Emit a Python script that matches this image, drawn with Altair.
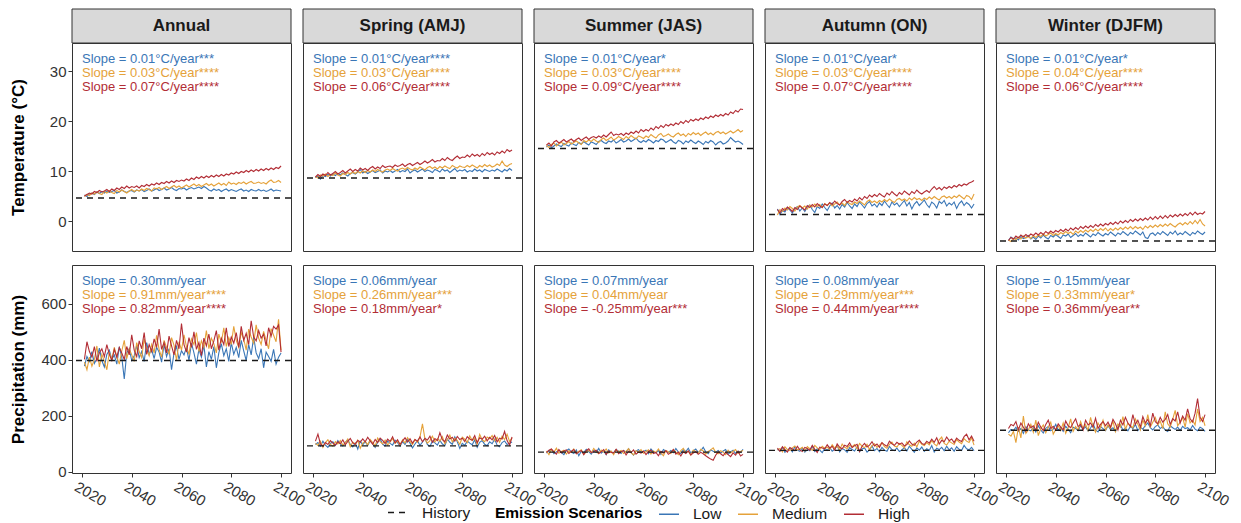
import altair as alt
import pandas as pd

# ---------------- data ----------------
years = list(range(2021, 2101))
seasons = ["Annual", "Spring (AMJ)", "Summer (JAS)", "Autumn (ON)", "Winter (DJFM)"]
scenarios = ["Low", "Medium", "High"]
scenario_colors = ["#3A76B6", "#E5A23A", "#B22D35"]
x_ticks = [2020, 2040, 2060, 2080, 2100]
temp_ticks = [0, 10, 20, 30]
prec_ticks = [0, 200, 400, 600]

temp_history = [4.6, 8.6, 14.5, 1.3, -4.0]
prec_history = [398, 93, 71, 77, 149]

temp_slope_low = ["Slope = 0.01°C/year***", "Slope = 0.01°C/year****", "Slope = 0.01°C/year*",
                  "Slope = 0.01°C/year*", "Slope = 0.01°C/year*"]
temp_slope_medium = ["Slope = 0.03°C/year****", "Slope = 0.03°C/year****", "Slope = 0.03°C/year****",
                     "Slope = 0.03°C/year****", "Slope = 0.04°C/year****"]
temp_slope_high = ["Slope = 0.07°C/year****", "Slope = 0.06°C/year****", "Slope = 0.09°C/year****",
                   "Slope = 0.07°C/year****", "Slope = 0.06°C/year****"]
prec_slope_low = ["Slope = 0.30mm/year", "Slope = 0.06mm/year", "Slope = 0.07mm/year",
                  "Slope = 0.08mm/year", "Slope = 0.15mm/year"]
prec_slope_medium = ["Slope = 0.91mm/year****", "Slope = 0.26mm/year***", "Slope = 0.04mm/year",
                     "Slope = 0.29mm/year***", "Slope = 0.33mm/year*"]
prec_slope_high = ["Slope = 0.82mm/year****", "Slope = 0.18mm/year*", "Slope = -0.25mm/year***",
                   "Slope = 0.44mm/year****", "Slope = 0.36mm/year**"]

# Temperature (°C), 2021-2100
temp_annual_low = [5.2, 4.9, 5.4, 5.6, 5.3, 5.8, 5.5, 5.9, 5.6, 6.0,
                   5.7, 5.9, 6.1, 5.6, 5.8, 6.2, 5.9, 5.7, 6.0, 6.1,
                   5.8, 6.2, 6.0, 6.3, 5.9, 6.1, 6.4, 6.0, 6.2, 6.5,
                   6.1, 6.3, 6.6, 6.2, 6.4, 6.7, 6.3, 6.1, 6.5, 6.4,
                   6.6, 6.2, 6.5, 6.7, 6.4, 6.6, 6.8, 6.5, 6.9, 6.6,
                   6.2, 6.0, 6.4, 6.1, 6.3, 5.9, 6.2, 6.4, 6.0, 6.3,
                   6.1, 5.9, 6.2, 6.4, 6.0, 6.2, 5.9, 6.3, 6.1, 6.0,
                   6.3, 6.0, 6.2, 5.9, 6.1, 6.4, 6.0, 6.2, 6.1, 6.0]
temp_annual_medium = [4.9, 5.3, 5.1, 5.6, 5.4, 5.8, 5.5, 5.3, 5.9, 5.6,
                      6.0, 5.7, 5.5, 6.1, 5.8, 6.2, 5.9, 5.6, 6.0, 6.3,
                      5.9, 6.2, 6.0, 6.4, 6.1, 6.5, 6.3, 6.0, 6.6, 6.4,
                      6.7, 6.3, 6.6, 6.9, 6.5, 6.8, 7.1, 6.7, 7.0, 6.6,
                      6.9, 7.2, 6.8, 7.1, 7.4, 7.0, 7.3, 6.9, 7.2, 7.5,
                      7.1, 7.4, 7.0, 7.3, 7.6, 7.2, 7.5, 7.1, 7.8, 7.4,
                      7.6, 7.3, 7.7, 7.5, 7.8, 7.4, 7.7, 7.9, 7.5, 7.6,
                      7.8, 7.5, 7.7, 7.4, 7.9, 8.2, 7.7, 7.8, 8.1, 7.7]
temp_annual_high = [5.0, 5.3, 5.6, 5.4, 5.9, 5.7, 6.1, 5.8, 6.0, 6.3,
                    5.9, 6.4, 6.1, 6.6, 6.3, 6.8, 6.5, 7.0, 6.6, 6.9,
                    6.7, 7.0, 6.6, 7.1, 6.9, 7.3, 7.0, 7.4, 7.2, 7.6,
                    7.3, 7.7, 7.5, 7.9, 7.6, 8.0, 7.7, 8.1, 7.9, 8.2,
                    8.0, 8.4, 8.1, 8.6, 8.3, 8.8, 8.5, 8.9, 8.6, 9.0,
                    8.7, 9.1, 8.8, 9.2, 8.9, 9.3, 9.0, 9.4, 9.2, 9.6,
                    9.4, 9.8, 9.5, 9.9, 9.7, 10.1, 9.8, 10.2, 9.9, 10.3,
                    10.0, 10.4, 10.1, 10.5, 10.2, 10.6, 10.3, 10.7, 10.5, 11.0]
temp_spring_low = [8.7, 9.0, 8.4, 9.1, 8.9, 9.3, 9.0, 9.4, 9.1, 9.5,
                   9.2, 9.6, 9.3, 9.0, 9.5, 9.7, 9.4, 9.8, 10.3, 9.6,
                   9.9, 9.5, 9.8, 10.1, 9.7, 9.9, 10.2, 9.6, 10.0, 9.8,
                   10.1, 9.7, 10.0, 10.3, 9.8, 10.1, 9.9, 10.4, 9.6, 10.0,
                   10.2, 9.8, 10.1, 10.4, 9.9, 10.2, 10.0, 9.7, 10.3, 10.1,
                   9.8, 10.4, 10.0, 10.2, 9.7, 10.1, 10.5, 9.9, 10.2, 10.0,
                   10.3, 9.8, 10.1, 9.9, 10.4, 10.0, 10.2, 9.8, 10.3, 10.1,
                   9.9, 10.2, 10.0, 10.4, 10.1, 9.8, 10.3, 10.0, 10.5, 10.1]
temp_spring_medium = [8.9, 8.6, 9.2, 9.0, 9.4, 8.9, 9.3, 9.1, 9.6, 9.2,
                      9.0, 9.5, 9.3, 9.7, 9.4, 9.8, 9.5, 9.9, 9.6, 10.0,
                      9.7, 10.1, 9.8, 10.2, 9.9, 10.3, 10.0, 9.8, 10.2, 10.4,
                      10.1, 10.5, 10.2, 10.0, 10.4, 10.6, 10.3, 10.7, 10.4, 10.2,
                      10.6, 10.3, 10.8, 10.5, 10.2, 10.7, 10.9, 10.5, 10.8, 10.4,
                      10.9, 10.6, 11.0, 10.7, 10.5, 11.1, 10.8, 10.6, 11.0, 10.8,
                      10.7, 11.1, 10.8, 11.2, 10.9, 10.6, 11.1, 10.8, 11.3, 10.9,
                      11.2, 10.8, 11.0, 11.4, 11.1, 12.0, 11.2, 10.9, 11.3, 11.5]
temp_spring_high = [8.8, 9.3, 8.9, 9.4, 9.1, 9.7, 9.2, 9.5, 9.9, 9.4,
                    9.7, 10.1, 9.6, 10.0, 10.4, 9.9, 10.3, 10.0, 10.6, 10.2,
                    10.5, 10.1, 10.6, 10.9, 10.4, 10.8, 10.5, 11.1, 10.7, 10.9,
                    11.0, 10.7, 11.2, 10.9, 11.1, 11.4, 10.9, 11.3, 11.5, 11.1,
                    11.4, 11.7, 11.3, 11.6, 12.0, 11.6, 11.9, 12.3, 11.8, 12.1,
                    12.0, 12.5, 12.1, 12.7, 12.3, 12.1, 12.6, 13.0, 12.5, 12.8,
                    12.7, 13.2, 12.8, 13.4, 13.0, 13.3, 12.9, 13.5, 13.1, 13.7,
                    13.3, 13.6, 13.2, 13.8, 13.5, 14.0, 13.6, 14.3, 13.9, 14.2]
temp_summer_low = [14.8, 15.2, 14.6, 15.0, 15.4, 15.1, 14.9, 15.5, 15.2, 15.0,
                   15.6, 15.3, 15.1, 15.7, 15.4, 15.9, 15.5, 15.2, 15.8, 15.6,
                   15.3, 15.9, 16.1, 15.7, 15.5, 16.0, 15.8, 16.2, 15.6, 15.9,
                   16.3, 15.8, 16.0, 16.4, 15.9, 16.2, 16.6, 16.0, 15.7, 16.1,
                   15.8, 16.3, 16.0, 15.6, 16.1, 15.9, 16.4, 16.2, 15.7, 16.0,
                   16.3, 15.8, 15.5, 16.1, 15.9, 15.4, 16.0, 15.7, 16.2, 15.8,
                   15.5, 16.0, 15.7, 15.3, 15.9, 15.6, 16.1, 15.8, 15.2, 15.7,
                   15.9, 15.4, 15.6, 16.0, 16.7, 16.2, 15.8, 16.0, 15.7, 15.3]
temp_summer_medium = [15.1, 14.7, 15.3, 15.6, 15.0, 15.4, 15.8, 15.2, 15.5, 15.9,
                      15.4, 15.7, 16.0, 15.6, 15.3, 16.1, 15.8, 16.2, 15.9, 16.4,
                      16.0, 15.7, 16.3, 16.6, 16.1, 16.4, 16.8, 16.2, 16.5, 16.9,
                      16.6, 16.3, 16.9, 16.5, 17.1, 16.7, 16.4, 17.0, 16.8, 16.5,
                      17.0, 16.7, 17.3, 16.9, 16.6, 17.2, 17.5, 16.9, 17.1, 17.4,
                      17.0, 16.8, 17.3, 17.6, 17.1, 17.4, 16.9, 17.5, 17.2, 17.7,
                      17.3, 17.6, 17.1, 17.5, 17.8, 17.3, 17.6, 17.2, 17.7, 17.9,
                      17.5, 17.8, 17.4, 17.7, 18.0, 17.6, 17.9, 18.3, 17.8, 18.1]
temp_summer_high = [15.2, 15.6, 15.0, 15.8, 16.1, 15.6, 15.9, 16.3, 15.8, 16.1,
                    16.4, 15.9, 16.3, 16.6, 16.1, 16.5, 16.8, 16.3, 16.7, 16.9,
                    16.6, 17.0, 16.7, 17.2, 16.8, 17.3, 17.8, 17.1, 17.4, 17.2,
                    17.5, 17.1, 17.6, 17.3, 17.8, 17.5, 18.0, 17.6, 18.3, 17.9,
                    18.3, 18.0, 18.6, 18.2, 18.9, 18.5, 19.1, 18.7, 19.3, 19.0,
                    19.4, 19.1, 19.6, 19.3, 19.9, 19.5, 20.1, 19.7, 20.3, 20.0,
                    20.4, 20.1, 20.6, 20.3, 20.8, 20.5, 21.0, 20.7, 21.2, 20.9,
                    21.3, 21.0, 21.5, 21.2, 21.8, 21.5, 22.1, 21.8, 22.4, 22.3]
temp_autumn_low = [2.4, 1.3, 2.1, 1.8, 2.7, 2.2, 1.6, 2.5, 2.9, 2.0,
                   2.6, 1.9, 2.8, 3.2, 2.3, 1.7, 2.9, 2.5, 3.4, 2.7,
                   2.1, 3.0, 3.6, 2.6, 3.1, 2.4, 3.3, 2.8, 3.7, 3.0,
                   2.5, 3.4, 2.9, 3.8, 3.2, 2.6, 3.5, 3.9, 3.0, 3.4,
                   2.8, 3.6, 3.1, 4.0, 3.3, 2.7, 3.8, 3.2, 3.6, 2.9,
                   3.5, 4.1, 3.0, 3.7, 2.4, 3.4, 3.9, 3.1, 3.6, 4.2,
                   3.3, 2.7, 3.8, 3.4, 2.6, 3.9, 3.5, 4.1, 3.0, 3.6,
                   3.2, 3.8, 2.5, 3.5, 4.0, 3.1, 3.7, 3.3, 2.6, 3.4]
temp_autumn_medium = [1.2, 2.3, 1.9, 2.6, 2.2, 2.9, 2.5, 2.0, 2.8, 3.1,
                      2.6, 3.0, 2.4, 3.2, 2.8, 3.4, 2.9, 3.3, 2.7, 3.5,
                      3.1, 3.6, 3.0, 3.4, 3.8, 3.2, 3.6, 3.1, 3.9, 3.5,
                      3.3, 3.8, 3.5, 4.0, 3.6, 3.2, 3.9, 4.2, 3.7, 4.0,
                      3.6, 4.1, 3.8, 4.3, 3.9, 4.4, 4.0, 3.7, 4.3, 4.5,
                      4.1, 4.4, 4.0, 4.6, 4.2, 4.7, 4.3, 4.5, 4.1, 4.6,
                      4.3, 4.8, 4.4, 4.9, 4.5, 4.2, 4.8, 5.0, 4.6, 4.9,
                      4.5, 5.0, 4.7, 5.2, 4.8, 4.4, 5.1, 4.9, 4.3, 5.4]
temp_autumn_high = [2.3, 1.6, 2.5, 2.1, 2.8, 2.4, 1.9, 2.7, 2.3, 3.0,
                    2.6, 2.2, 3.1, 2.7, 3.3, 2.8, 3.5, 3.0, 2.7, 3.4,
                    3.1, 3.7, 3.3, 4.0, 3.5, 3.2, 3.9, 4.3, 3.7, 4.1,
                    3.8, 4.4, 4.0, 4.7, 4.2, 4.9, 4.5, 5.2, 4.8, 5.3,
                    4.9, 5.5, 5.1, 4.8, 5.6, 5.2, 5.9, 5.4, 5.0, 5.7,
                    5.3, 6.0, 5.6, 5.2, 5.9, 5.5, 6.2, 5.7, 5.4, 5.8,
                    6.1, 5.7, 6.4, 6.9, 6.3, 6.7, 6.2, 6.8, 6.5, 6.9,
                    6.6, 7.1, 6.8, 7.3, 7.0, 7.4, 7.2, 7.6, 7.8, 8.1]
temp_winter_low = [-3.9, -3.2, -3.6, -3.4, -3.8, -3.1, -3.5, -3.3, -2.9, -3.6,
                   -3.2, -3.7, -3.0, -3.4, -2.8, -3.3, -3.6, -2.9, -3.2, -2.7,
                   -3.1, -3.5, -2.8, -3.0, -2.6, -3.3, -2.9, -2.5, -3.1, -2.7,
                   -3.0, -2.4, -2.8, -3.2, -2.6, -2.9, -2.3, -2.7, -3.0, -2.5,
                   -2.8, -2.2, -2.6, -3.0, -2.4, -2.7, -2.1, -2.5, -2.9, -2.3,
                   -2.6, -2.0, -2.4, -2.8, -2.2, -3.3, -3.5, -2.6, -2.4, -2.9,
                   -2.3, -2.7, -2.1, -2.5, -2.9, -2.2, -2.6, -2.0, -2.8, -2.4,
                   -2.7, -2.1, -2.5, -2.9, -2.3, -2.6, -2.0, -2.4, -2.7, -2.2]
temp_winter_medium = [-3.8, -4.1, -3.5, -3.7, -3.2, -3.6, -3.0, -3.4, -3.1, -3.5,
                      -2.9, -3.3, -2.8, -3.1, -2.6, -3.0, -2.7, -2.4, -2.9, -2.5,
                      -2.8, -2.3, -2.6, -2.1, -2.5, -2.2, -2.7, -2.0, -2.4, -1.9,
                      -2.3, -1.8, -2.2, -1.7, -2.1, -1.6, -2.0, -1.5, -1.9, -1.4,
                      -2.0, -1.5, -1.9, -1.4, -1.8, -1.3, -1.7, -1.2, -1.6, -1.1,
                      -1.6, -1.1, -1.5, -1.2, -1.7, -1.0, -1.4, -0.9, -1.3, -0.8,
                      -1.2, -0.7, -1.1, -0.6, -1.0, -0.5, -0.9, -1.2, -0.7, -0.4,
                      -0.8, -0.3, -0.7, -0.1, -0.6, 0.1, -0.5, 0.3, -0.6, -1.0]
temp_winter_high = [-3.9, -3.3, -3.6, -3.0, -3.4, -2.8, -3.2, -2.7, -3.1, -2.6,
                    -2.9, -2.4, -2.8, -2.3, -2.7, -2.1, -2.5, -2.0, -2.4, -1.9,
                    -2.2, -1.7, -2.1, -1.6, -2.0, -1.4, -1.8, -1.3, -1.7, -1.1,
                    -1.5, -1.0, -1.4, -0.9, -1.3, -0.7, -1.1, -0.6, -1.0, -0.5,
                    -0.8, -0.3, -0.7, -0.2, -0.6, 0.0, -0.4, 0.1, -0.3, 0.3,
                    -0.1, 0.4, 0.0, 0.5, 0.1, 0.6, 0.2, 0.8, 0.3, 0.9,
                    0.4, 1.0, 0.5, 1.1, 0.6, 1.2, 0.8, 1.3, 0.9, 1.4,
                    1.0, 1.5, 1.1, 1.7, 1.2, 1.8, 1.3, 1.6, 1.4, 1.9]

# Precipitation (mm), 2021-2100
prec_annual_low = [378, 412, 395, 430, 388, 405, 442, 398, 375, 420,
                   435, 402, 418, 385, 447, 410, 332, 425, 440, 398,
                   415, 452, 408, 430, 395, 462, 420, 438, 405, 445,
                   428, 392, 456, 412, 440, 365, 425, 448, 402, 433,
                   418, 445, 398, 460, 425, 385, 438, 410, 452, 375,
                   430, 402, 448, 372, 425, 458, 415, 440, 395, 462,
                   420, 445, 408, 470, 432, 398, 455, 418, 482, 425,
                   405, 440, 372, 428, 412, 395, 438, 385, 410, 425]
prec_annual_medium = [392, 365, 410, 378, 402, 450, 375, 420, 395, 365,
                      428, 400, 445, 412, 385, 432, 470, 405, 440, 418,
                      395, 462, 430, 408, 475, 440, 415, 455, 425, 488,
                      438, 410, 470, 445, 420, 480, 452, 398, 465, 435,
                      490, 448, 420, 475, 455, 498, 430, 468, 445, 505,
                      440, 478, 458, 425, 492, 462, 515, 448, 480, 455,
                      520, 470, 445, 498, 475, 435, 510, 482, 460, 525,
                      478, 455, 502, 470, 440, 512, 488, 465, 545, 435]
prec_annual_high = [402, 465, 430, 410, 448, 395, 425, 440, 412, 455,
                    420, 398, 438, 410, 445, 425, 402, 448, 418, 490,
                    435, 412, 468, 440, 498, 420, 455, 430, 475, 445,
                    510, 438, 462, 425, 485, 450, 418, 470, 440, 530,
                    455, 428, 480, 445, 500, 438, 462, 415, 478, 450,
                    492, 440, 468, 505, 435, 478, 455, 515, 448, 482,
                    460, 498, 445, 520, 470, 495, 455, 540, 482, 468,
                    505, 478, 492, 450, 515, 485, 520, 510, 525, 428]
prec_spring_low = [98, 105, 92, 110, 96, 88, 102, 108, 95, 112,
                   100, 93, 106, 115, 98, 90, 104, 82, 110, 97,
                   108, 95, 112, 101, 88, 106, 118, 99, 93, 110,
                   102, 96, 114, 105, 92, 108, 98, 116, 103, 86,
                   100, 112, 95, 107, 120, 98, 91, 110, 104, 96,
                   113, 100, 94, 118, 106, 99, 125, 108, 84, 102,
                   95, 110, 103, 97, 115, 88, 106, 112, 99, 94,
                   108, 101, 117, 96, 90, 105, 111, 98, 103, 107]
prec_spring_medium = [102, 95, 110, 88, 105, 115, 98, 92, 108, 100,
                      112, 96, 104, 118, 90, 107, 99, 113, 85, 103,
                      110, 97, 116, 105, 93, 121, 108, 100, 114, 96,
                      107, 119, 102, 111, 95, 115, 104, 123, 109, 98,
                      116, 106, 125, 172, 118, 103, 112, 128, 107, 119,
                      110, 126, 101, 115, 132, 108, 120, 113, 98, 124,
                      117, 105, 129, 112, 121, 99, 134, 115, 108, 125,
                      119, 130, 111, 124, 106, 128, 116, 135, 109, 122]
prec_spring_high = [110, 135, 100, 92, 105, 98, 112, 103, 96, 108,
                    101, 115, 97, 109, 120, 104, 99, 113, 106, 118,
                    108, 124, 111, 99, 116, 105, 121, 113, 102, 117,
                    109, 126, 104, 115, 98, 111, 122, 107, 119, 103,
                    116, 110, 125, 108, 120, 114, 128, 106, 119, 112,
                    140, 115, 108, 132, 118, 124, 110, 127, 116, 121,
                    109, 126, 118, 113, 130, 105, 122, 117, 128, 111,
                    124, 115, 130, 108, 121, 118, 145, 112, 96, 125]
prec_summer_low = [68, 75, 80, 65, 72, 78, 70, 62, 76, 82,
                   71, 66, 79, 58, 74, 69, 81, 73, 64, 77,
                   70, 84, 67, 75, 62, 79, 72, 68, 80, 74,
                   66, 77, 71, 83, 69, 60, 75, 80, 70, 73,
                   78, 65, 82, 72, 68, 76, 63, 80, 74, 70,
                   77, 69, 84, 71, 66, 79, 73, 85, 68, 75,
                   82, 70, 76, 88, 72, 65, 79, 74, 70, 77,
                   68, 75, 80, 63, 72, 78, 66, 74, 70, 81]
prec_summer_medium = [75, 62, 80, 70, 85, 67, 73, 78, 64, 76,
                      70, 82, 66, 74, 79, 63, 72, 77, 69, 84,
                      73, 65, 78, 71, 82, 68, 75, 62, 80, 72,
                      77, 66, 74, 83, 69, 61, 76, 71, 80, 67,
                      73, 79, 64, 75, 70, 82, 68, 58, 77, 72,
                      66, 80, 71, 62, 76, 84, 69, 74, 60, 78,
                      72, 67, 81, 75, 64, 73, 79, 86, 70, 65,
                      76, 71, 62, 78, 68, 74, 80, 66, 73, 77]
prec_summer_high = [70, 78, 82, 72, 64, 80, 68, 75, 79, 66,
                    74, 80, 65, 71, 77, 62, 76, 83, 69, 73,
                    78, 66, 72, 80, 63, 75, 70, 68, 81, 65,
                    72, 77, 61, 74, 69, 79, 64, 71, 67, 75,
                    62, 73, 78, 66, 70, 58, 74, 68, 76, 63,
                    69, 80, 64, 71, 57, 72, 66, 75, 61, 68,
                    73, 63, 70, 65, 58, 52, 46, 42, 60, 72,
                    65, 58, 70, 62, 55, 68, 60, 74, 57, 63]
prec_autumn_low = [82, 75, 88, 70, 79, 85, 72, 90, 78, 74,
                   86, 71, 80, 76, 92, 73, 83, 78, 69, 85,
                   77, 88, 74, 81, 95, 72, 84, 79, 70, 87,
                   80, 75, 90, 73, 82, 86, 71, 79, 93, 76,
                   84, 72, 88, 78, 74, 91, 80, 76, 85, 73,
                   79, 87, 75, 92, 81, 70, 86, 78, 89, 74,
                   83, 77, 94, 71, 85, 80, 88, 76, 92, 79,
                   86, 74, 90, 81, 77, 95, 83, 79, 88, 76]
prec_autumn_medium = [78, 84, 72, 90, 80, 76, 86, 93, 79, 82,
                      88, 75, 91, 83, 78, 95, 86, 80, 92, 84,
                      89, 81, 97, 85, 93, 79, 100, 88, 84, 95,
                      90, 98, 83, 102, 92, 87, 99, 80, 94, 101,
                      88, 96, 104, 91, 85, 99, 107, 93, 89, 102,
                      95, 86, 108, 97, 92, 103, 90, 110, 99, 94,
                      105, 97, 112, 100, 93, 115, 125, 102, 96, 110,
                      104, 98, 116, 107, 101, 119, 110, 105, 122, 96]
prec_autumn_high = [85, 74, 90, 80, 71, 87, 82, 76, 92, 79,
                    73, 88, 84, 78, 95, 81, 70, 89, 86, 83,
                    97, 85, 92, 78, 100, 88, 83, 96, 91, 104,
                    87, 94, 99, 73, 92, 102, 89, 96, 108, 93,
                    100, 88, 105, 97, 92, 110, 101, 95, 106, 99,
                    104, 93, 98, 111, 100, 95, 107, 114, 102, 98,
                    110, 103, 117, 106, 122, 100, 113, 108, 125, 112,
                    118, 105, 121, 113, 109, 126, 135, 115, 128, 110]
prec_winter_low = [140, 152, 148, 160, 145, 155, 138, 162, 150, 147,
                   158, 143, 165, 150, 139, 156, 162, 147, 153, 170,
                   149, 158, 145, 163, 152, 140, 160, 155, 148, 166,
                   153, 161, 146, 157, 172, 150, 143, 162, 155, 148,
                   165, 152, 158, 145, 160, 168, 150, 156, 147, 163,
                   155, 170, 148, 160, 153, 166, 175, 158, 150, 162,
                   168, 155, 162, 150, 145, 165, 158, 152, 160, 148,
                   163, 155, 158, 150, 166, 153, 147, 160, 155, 145]
prec_winter_medium = [135, 128, 145, 105, 160, 122, 200, 138, 150, 170,
                      142, 185, 130, 155, 168, 140, 160, 178, 135, 152,
                      165, 148, 175, 138, 158, 190, 145, 162, 150, 180,
                      155, 170, 148, 195, 160, 142, 175, 158, 185, 150,
                      168, 155, 182, 145, 172, 160, 198, 152, 175, 165,
                      158, 190, 170, 150, 185, 165, 205, 160, 178, 195,
                      168, 182, 155, 215, 172, 160, 188, 220, 165, 178,
                      195, 160, 208, 175, 185, 168, 225, 180, 195, 165]
prec_winter_high = [155, 170, 165, 180, 150, 175, 160, 145, 172, 158,
                    165, 150, 178, 160, 148, 170, 185, 155, 163, 150,
                    172, 160, 150, 182, 165, 158, 175, 190, 162, 170,
                    150, 185, 168, 175, 160, 192, 155, 170, 180, 165,
                    178, 160, 188, 172, 150, 185, 168, 195, 175, 162,
                    205, 170, 185, 160, 198, 175, 188, 165, 210, 180,
                    172, 195, 178, 188, 205, 170, 190, 182, 215, 175,
                    200, 185, 225, 190, 178, 210, 262, 195, 180, 205]

temp_series = [
    (temp_annual_low, temp_annual_medium, temp_annual_high),
    (temp_spring_low, temp_spring_medium, temp_spring_high),
    (temp_summer_low, temp_summer_medium, temp_summer_high),
    (temp_autumn_low, temp_autumn_medium, temp_autumn_high),
    (temp_winter_low, temp_winter_medium, temp_winter_high),
]
prec_series = [
    (prec_annual_low, prec_annual_medium, prec_annual_high),
    (prec_spring_low, prec_spring_medium, prec_spring_high),
    (prec_summer_low, prec_summer_medium, prec_summer_high),
    (prec_autumn_low, prec_autumn_medium, prec_autumn_high),
    (prec_winter_low, prec_winter_medium, prec_winter_high),
]
for trio in temp_series + prec_series:
    for s in trio:
        assert len(s) == len(years), len(s)

# ---------------- styling ----------------
FONT = "Liberation Sans"
W, H = 219, 208
STRIP_H = 34
DARK = "#333333"

stroke_scale = alt.Scale(domain=scenarios, range=scenario_colors)
hist_scale = alt.Scale(domain=["History"], range=["#1a1a1a"])

scen_legend = alt.Legend(
    title="Emission Scenarios", orient="none", legendX=423, legendY=460,
    direction="horizontal", titleOrient="left", titleFont=FONT, titleFontSize=15.5,
    titleFontWeight="bold", titleColor="black", titlePadding=15,
    symbolType="stroke", symbolSize=400, symbolStrokeWidth=1.5,
    labelFont=FONT, labelFontSize=15.5, labelColor="#1a1a1a", labelOffset=13,
    columnPadding=13, padding=0,
)
hist_legend = alt.Legend(
    title=None, orient="none", legendX=315, legendY=460, direction="horizontal",
    symbolType="stroke", symbolSize=289, symbolStrokeWidth=1.5, symbolDash=[6, 5],
    labelFont=FONT, labelFontSize=15.5, labelColor="#1a1a1a", labelOffset=16, padding=0,
)


def panel(series, history, labels, col, is_temp):
    low, med, high = series
    df = pd.DataFrame({
        "year": years * 3,
        "value": list(low) + list(med) + list(high),
        "scenario": ["Low"] * len(years) + ["Medium"] * len(years) + ["High"] * len(years),
    })
    if is_temp:
        ydom, yticks, ytitle = [-6, 35.6], temp_ticks, "Temperature (°C)"
        xaxis = None
    else:
        ydom, yticks, ytitle = [-3.6, 739], prec_ticks, "Precipitation (mm)"
        xaxis = alt.Axis(values=x_ticks, format="d", title=None, labelAngle=30,
                         labelAlign="left", labelBaseline="top", labelPadding=2,
                         labelOffset=-3, labelFontSize=15, tickSize=4)
    if col == 0:
        yaxis = alt.Axis(values=yticks, title=ytitle, minExtent=34, maxExtent=34,
                         titlePadding=11, labelPadding=2, labelFontSize=15, tickSize=4)
    else:
        yaxis = None
    xscale = alt.Scale(domain=[2016, 2104], nice=False, zero=False)
    yscale = alt.Scale(domain=ydom, nice=False, zero=False)

    lines = alt.Chart(df).mark_line(strokeWidth=1.1).encode(
        x=alt.X("year:Q", scale=xscale, axis=xaxis),
        y=alt.Y("value:Q", scale=yscale, axis=yaxis),
        stroke=alt.Stroke("scenario:N", scale=stroke_scale, legend=scen_legend, sort=scenarios),
    )
    hist = alt.Chart(pd.DataFrame({"value": [history], "series": ["History"]})).mark_rule(
        strokeDash=[6, 5], strokeWidth=1.3
    ).encode(
        y=alt.Y("value:Q", scale=yscale, axis=yaxis),
        color=alt.Color("series:N", scale=hist_scale, legend=hist_legend),
    )
    layers = [lines, hist]
    for i, (lab, colr) in enumerate(zip(labels, scenario_colors)):
        layers.append(
            alt.Chart(pd.DataFrame({"t": [lab]})).mark_text(
                align="left", baseline="middle", font=FONT, fontSize=13, color=colr
            ).encode(
                x=alt.XDatum(2020, scale=xscale, axis=xaxis),
                y=alt.value(16 + 14 * i),
                text="t:N",
            )
        )
    if is_temp:
        sdf = pd.DataFrame({"label": [seasons[col]]})
        layers.append(
            alt.Chart(sdf).mark_rect(fill="#D9D9D9", stroke=DARK, strokeWidth=1).encode(
                x=alt.value(0), x2=alt.value(W), y=alt.value(-STRIP_H), y2=alt.value(0)
            )
        )
        layers.append(
            alt.Chart(sdf).mark_text(font=FONT, fontSize=17, fontWeight="bold",
                                     color="#1a1a1a", baseline="middle").encode(
                x=alt.value(W / 2), y=alt.value(-STRIP_H / 2), text="label:N"
            )
        )
    return alt.layer(*layers).properties(width=W, height=H)


top_row = alt.hconcat(
    *[panel(temp_series[c],
            temp_history[c],
            [temp_slope_low[c], temp_slope_medium[c], temp_slope_high[c]],
            c, True) for c in range(5)],
    spacing=12, bounds="flush",
)
bottom_row = alt.hconcat(
    *[panel(prec_series[c],
            prec_history[c],
            [prec_slope_low[c], prec_slope_medium[c], prec_slope_high[c]],
            c, False) for c in range(5)],
    spacing=12, bounds="flush",
)

chart = alt.vconcat(top_row, bottom_row, spacing=12).properties(
    padding={"left": 0, "top": 0, "right": 0, "bottom": 0},
    background="white",
).configure_view(
    stroke=DARK, strokeWidth=1, fill="white"
).configure_axis(
    grid=False, domain=False, labelFont=FONT, labelFontSize=14, labelColor=DARK,
    tickColor=DARK, tickWidth=1, titleFont=FONT, titleFontSize=17,
    titleFontWeight="bold", titleColor="black",
)

chart.save("out.html", embed_options={"renderer": "svg", "actions": False})
